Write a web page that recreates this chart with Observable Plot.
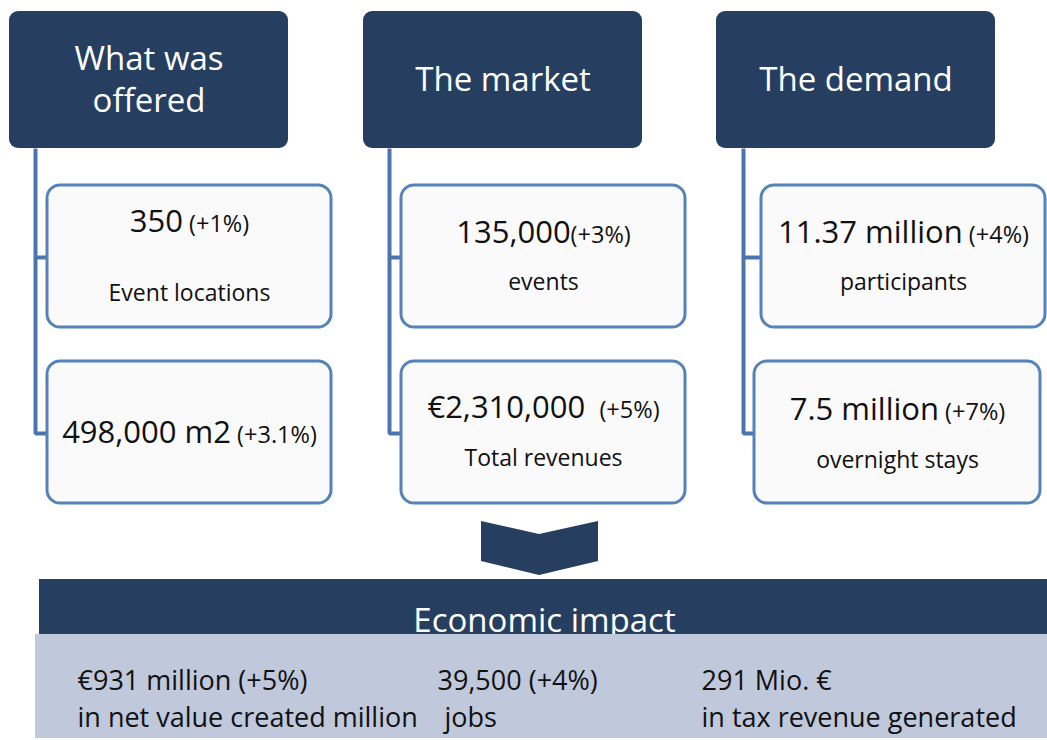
<!DOCTYPE html>
<html>
<head>
<meta charset="utf-8">
<script src="https://cdn.jsdelivr.net/npm/d3@7"></script>
<script src="https://cdn.jsdelivr.net/npm/@observablehq/plot@0.6"></script>
<style>
  html, body { margin: 0; padding: 0; background: #ffffff; }
  #chart svg { display: block; }
</style>
</head>
<body>
<div id="chart"></div>
<script>
// ---------------- DATA ----------------
const headers = ["What was\noffered", "The market", "The demand"];
const itemValues = ["350", "498,000 m2", "135,000", "€2,310,000 ", "11.37 million", "7.5 million"];
const itemChanges = [" (+1%)", " (+3.1%)", "(+3%)", " (+5%)", " (+4%)", " (+7%)"];
const itemLabels = ["Event locations", "", "events", "Total revenues", "participants", "overnight stays"];
const itemColumn = [0, 0, 1, 1, 2, 2];
const itemRow = [0, 1, 0, 1, 0, 1];
const impactTitle = "Economic impact";
const impactValues = ["€931 million (+5%)", "39,500 (+4%)", "291 Mio. €"];
const impactLabels = ["in net value created million", " jobs", "in tax revenue generated"];

// ---------------- LAYOUT (positions / sizes) ----------------
const W = 1047, H = 740;
const layout = {
  headerX: [9, 363, 716], headerW: 279, headerY1: 11, headerY2: 148,
  boxX: [[47, 331], [47, 331], [401, 685], [401, 685], [761, 1045], [754, 1040]],
  boxY: [[185, 327], [361, 503]],
  valueY: [222, 433, 233, 408, 233, 410],
  labelY: [293, null, 282, 458, 282, 460],
  spineX: [35, 389, 743], spineTop: 148, branchY: [257, 433],
  chevronX: [481, 539, 598], chevronTop: [521, 534, 521], chevronBottom: [561, 575, 561],
  darkBand: [39, 579, W, 634], lightBand: [35, 634, W, 738],
  titleY: 621,
  impactX: [77, 437, 701], impactValueY: 681, impactLabelY: 718
};

const navy = "#263f60";
const boxStroke = "#5482bb";
const spineColor = "#4b76ad";
const font = "'Open Sans', sans-serif";

// tables built from the arrays
const headerTable = headers.map((h, i) => ({
  text: h,
  x1: layout.headerX[i], x2: layout.headerX[i] + layout.headerW,
  y1: layout.headerY1, y2: layout.headerY2,
  cx: layout.headerX[i] + layout.headerW / 2, cy: (layout.headerY1 + layout.headerY2) / 2 - 2
}));

const items = itemValues.map((v, i) => ({
  value: v, change: itemChanges[i], label: itemLabels[i],
  col: itemColumn[i], row: itemRow[i],
  x1: layout.boxX[i][0], x2: layout.boxX[i][1],
  y1: layout.boxY[itemRow[i]][0], y2: layout.boxY[itemRow[i]][1],
  cx: (layout.boxX[i][0] + layout.boxX[i][1]) / 2,
  vy: layout.valueY[i], ly: layout.labelY[i]
}));

const spineSegs = [];
layout.spineX.forEach((sx, c) => {
  spineSegs.push({ c: c + "v", x: sx, y: layout.spineTop });
  spineSegs.push({ c: c + "v", x: sx, y: layout.branchY[1] });
  const boxLeft = items.find(d => d.col === c && d.row === 1).x1;
  spineSegs.push({ c: c + "v", x: boxLeft, y: layout.branchY[1] });
  const boxLeft0 = items.find(d => d.col === c && d.row === 0).x1;
  spineSegs.push({ c: c + "b", x: sx, y: layout.branchY[0] });
  spineSegs.push({ c: c + "b", x: boxLeft0, y: layout.branchY[0] });
});

const chevron = layout.chevronX.map((x, i) => ({ x, top: layout.chevronTop[i], bottom: layout.chevronBottom[i] }));

const impacts = impactValues.map((v, i) => ({ value: v, label: impactLabels[i], x: layout.impactX[i] }));

const plot = Plot.plot({
  width: W, height: H,
  margin: 0,
  x: { domain: [0, W], range: [0, W], axis: null },
  y: { domain: [0, H], range: [0, H], axis: null },
  style: { fontFamily: font, background: "#ffffff" },
  marks: [
    // connectors
    Plot.line(spineSegs, { x: "x", y: "y", z: "c", stroke: spineColor, strokeWidth: 4, strokeLinejoin: "miter", strokeLinecap: "butt" }),
    // header boxes
    Plot.rect(headerTable, { x1: "x1", x2: "x2", y1: "y1", y2: "y2", fill: navy, rx: 9 }),
    Plot.text(headerTable, { x: "cx", y: "cy", text: "text", fill: "white", fontSize: 33, lineHeight: 1.27, fontFamily: font }),
    // item boxes
    Plot.rect(items, { x1: "x1", x2: "x2", y1: "y1", y2: "y2", fill: "#fafafa", stroke: boxStroke, strokeWidth: 3, rx: 13 }),
    Plot.text(items, { x: "cx", y: "vy", text: d => d.value + "|" + d.change, fill: "#111", fontSize: 31, fontFamily: font, className: "mixed" }),
    Plot.text(items.filter(d => d.label), { x: "cx", y: "ly", text: "label", fill: "#111", fontSize: 23, fontFamily: font }),
    // chevron
    Plot.areaY(chevron, { x: "x", y1: "top", y2: "bottom", fill: navy }),
    // bottom band
    Plot.rect([layout.darkBand], { x1: d => d[0], y1: d => d[1], x2: d => d[2], y2: d => d[3], fill: navy }),
    Plot.text([impactTitle], { x: (layout.darkBand[0] + W) / 2 + 1, y: layout.titleY, text: d => d, fill: "white", fontSize: 33, fontFamily: font }),
    Plot.rect([layout.lightBand], { x1: d => d[0], y1: d => d[1], x2: d => d[2], y2: d => d[3], fill: "#c0c8dc" }),
    Plot.text(impacts, { x: "x", y: layout.impactValueY, text: "value", textAnchor: "start", fill: "#111", fontSize: 27, fontFamily: font }),
    Plot.text(impacts, { x: "x", y: layout.impactLabelY, text: "label", textAnchor: "start", fill: "#111", fontSize: 27, fontFamily: font })
  ]
});

// split mixed-size value lines into two tspans
d3.select(plot).selectAll("g.mixed text").each(function () {
  const t = d3.select(this);
  const parts = t.text().split("|");
  t.text(null);
  t.append("tspan").text(parts[0]);
  t.append("tspan").attr("font-size", 23.5).text(parts[1]);
});

document.getElementById("chart").appendChild(plot);
</script>
</body>
</html>
